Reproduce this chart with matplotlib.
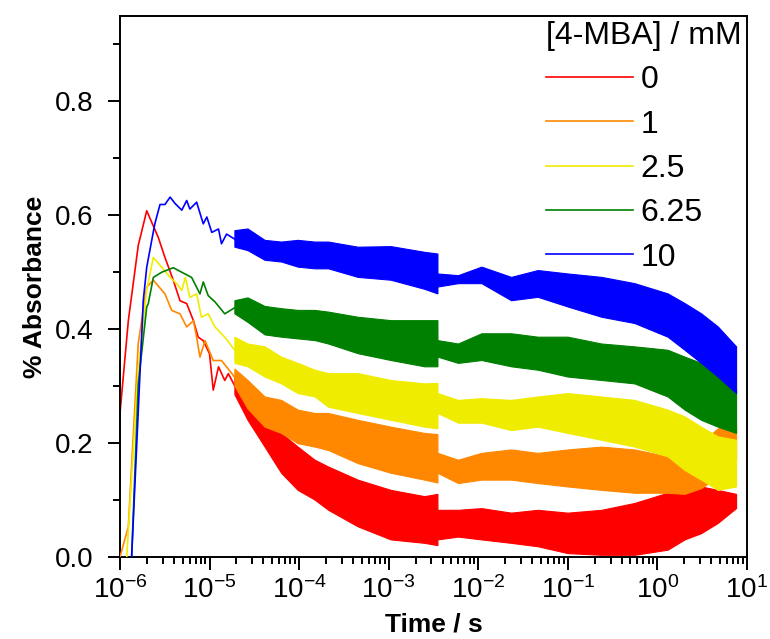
import numpy as np
import matplotlib
matplotlib.use("Agg")
import matplotlib.pyplot as plt
from matplotlib.ticker import FixedLocator, FuncFormatter, LogLocator, NullFormatter
from matplotlib.lines import Line2D

plt.rcParams["font.family"] = ["Liberation Sans", "DejaVu Sans"]
plt.rcParams["mathtext.default"] = "regular"

# ---- concentrations and colours ----
conc_labels = ["0", "1", "2.5", "6.25", "10"]
colors = ["#FF0000", "#FF8800", "#F0EC00", "#008000", "#0000FF"]

# ---- early part of each trace (single line, s / % absorbance) ----
t_line_0 = [1.00e-6, 1.24e-6, 1.60e-6, 1.99e-6, 2.68e-6, 3.18e-6, 3.94e-6, 4.68e-6, 5.56e-6,
            6.61e-6, 7.48e-6, 8.50e-6, 1.00e-5, 1.10e-5, 1.26e-5, 1.48e-5, 1.62e-5, 1.92e-5]
a_line_0 = [0.252, 0.415, 0.547, 0.608, 0.561, 0.526, 0.486, 0.450, 0.445,
            0.415, 0.386, 0.380, 0.357, 0.293, 0.334, 0.310, 0.322, 0.300]

t_line_1 = [1.00e-6, 1.24e-6, 1.60e-6, 1.99e-6, 2.36e-6, 3.18e-6, 3.78e-6, 4.68e-6, 5.56e-6,
            6.61e-6, 7.18e-6, 7.82e-6, 8.91e-6, 1.10e-5, 1.36e-5, 1.78e-5, 1.92e-5]
a_line_1 = [0.000, 0.053, 0.375, 0.474, 0.486, 0.462, 0.433, 0.427, 0.404,
            0.415, 0.386, 0.351, 0.380, 0.345, 0.345, 0.322, 0.315]

t_line_2 = [1.19e-6, 1.60e-6, 1.99e-6, 2.36e-6, 2.92e-6, 3.63e-6, 4.30e-6, 4.90e-6, 5.37e-6,
            6.03e-6, 7.18e-6, 8.13e-6, 9.66e-6, 1.15e-5, 1.48e-5, 1.92e-5]
a_line_2 = [0.000, 0.330, 0.470, 0.526, 0.509, 0.491, 0.480, 0.468, 0.491,
            0.456, 0.462, 0.421, 0.427, 0.404, 0.386, 0.363]

t_line_3 = [1.35e-6, 1.60e-6, 1.99e-6, 2.07e-6, 2.36e-6, 2.92e-6, 3.94e-6, 4.90e-6, 6.31e-6,
            7.82e-6, 8.51e-6, 9.66e-6, 1.15e-5, 1.48e-5, 1.92e-5]
a_line_3 = [0.000, 0.304, 0.439, 0.445, 0.491, 0.500, 0.508, 0.500, 0.491,
            0.462, 0.483, 0.459, 0.448, 0.427, 0.438]

t_line_4 = [1.35e-6, 1.82e-6, 1.99e-6, 2.45e-6, 2.80e-6, 3.18e-6, 3.63e-6, 4.11e-6, 4.90e-6,
            5.56e-6, 6.03e-6, 7.18e-6, 8.51e-6, 9.33e-6, 1.06e-5, 1.26e-5, 1.36e-5, 1.55e-5, 1.92e-5]
a_line_4 = [0.000, 0.450, 0.509, 0.585, 0.619, 0.619, 0.632, 0.621, 0.609,
            0.626, 0.611, 0.623, 0.585, 0.597, 0.570, 0.576, 0.550, 0.567, 0.558]

# ---- noisy part: lower / upper envelope of the scatter ----
# the repeated 3.55e-3 marks the jump where the acquisition range changes
t_band = [1.92e-5, 2.69e-5, 4.17e-5, 6.38e-5, 9.77e-5, 1.51e-4, 2.14e-4, 4.57e-4, 1.07e-3,
          2.54e-3, 3.55e-3, 3.55e-3, 6.03e-3, 1.10e-2, 2.36e-2, 4.68e-2, 0.101, 0.240,
          0.562, 1.32, 2.04, 3.12, 4.79, 7.67]

lo_0 = [0.285, 0.240, 0.193, 0.147, 0.117, 0.100, 0.082, 0.053, 0.030, 0.024, 0.020, 0.030,
        0.035, 0.030, 0.024, 0.018, 0.006, 0.003, 0.003, 0.012, 0.030, 0.041, 0.059, 0.085]
hi_0 = [0.318, 0.290, 0.252, 0.217, 0.193, 0.170, 0.158, 0.135, 0.117, 0.106, 0.110, 0.082,
        0.082, 0.085, 0.077, 0.082, 0.077, 0.082, 0.094, 0.112, 0.121, 0.123, 0.117, 0.110]

lo_1 = [0.300, 0.260, 0.228, 0.217, 0.199, 0.193, 0.187, 0.164, 0.147, 0.135, 0.130, 0.147,
        0.129, 0.135, 0.135, 0.129, 0.123, 0.117, 0.112, 0.112, 0.110, 0.120, 0.140, 0.170]
hi_1 = [0.330, 0.310, 0.281, 0.275, 0.258, 0.252, 0.252, 0.240, 0.228, 0.217, 0.215, 0.182,
        0.170, 0.182, 0.188, 0.182, 0.188, 0.193, 0.188, 0.176, 0.180, 0.200, 0.225, 0.230]

lo_2 = [0.340, 0.334, 0.316, 0.304, 0.287, 0.281, 0.263, 0.252, 0.240, 0.228, 0.225, 0.252,
        0.235, 0.235, 0.222, 0.228, 0.217, 0.205, 0.193, 0.176, 0.152, 0.135, 0.117, 0.123]
hi_2 = [0.386, 0.374, 0.369, 0.351, 0.340, 0.328, 0.322, 0.322, 0.310, 0.304, 0.305, 0.287,
        0.275, 0.278, 0.275, 0.281, 0.287, 0.281, 0.275, 0.258, 0.246, 0.228, 0.211, 0.205]

lo_3 = [0.427, 0.412, 0.390, 0.386, 0.383, 0.380, 0.374, 0.357, 0.345, 0.334, 0.334, 0.351,
        0.340, 0.345, 0.334, 0.328, 0.316, 0.310, 0.304, 0.281, 0.258, 0.240, 0.228, 0.217]
hi_3 = [0.450, 0.455, 0.440, 0.436, 0.433, 0.433, 0.430, 0.421, 0.415, 0.415, 0.415, 0.380,
        0.374, 0.392, 0.392, 0.386, 0.386, 0.374, 0.369, 0.363, 0.351, 0.340, 0.322, 0.293]

lo_4 = [0.544, 0.538, 0.521, 0.518, 0.509, 0.506, 0.506, 0.491, 0.486, 0.470, 0.462, 0.474,
        0.480, 0.480, 0.450, 0.456, 0.439, 0.421, 0.410, 0.386, 0.363, 0.340, 0.316, 0.287]
hi_4 = [0.573, 0.576, 0.556, 0.553, 0.556, 0.553, 0.553, 0.544, 0.545, 0.535, 0.532, 0.497,
        0.494, 0.509, 0.491, 0.503, 0.497, 0.491, 0.480, 0.462, 0.445, 0.427, 0.404, 0.369]

lines = [(t_line_0, a_line_0), (t_line_1, a_line_1), (t_line_2, a_line_2),
         (t_line_3, a_line_3), (t_line_4, a_line_4)]
bands = [(lo_0, hi_0), (lo_1, hi_1), (lo_2, hi_2), (lo_3, hi_3), (lo_4, hi_4)]

# ===== Plot =====
fig = plt.figure(figsize=(7.7, 6.39), dpi=100)
ax = fig.add_axes([0.1558, 0.1283, 0.8142, 0.8467])

tb = np.array(t_band)
step = int(np.flatnonzero(np.diff(tb) == 0)[0]) + 1   # first index after the jump
segments = [slice(0, step), slice(step, len(tb))]

for i, ((t, a), (lo, hi), c) in enumerate(zip(lines, bands, colors)):
    ax.plot(t, a, color=c, linewidth=1.2, zorder=2 + i)
    lo, hi = np.array(lo), np.array(hi)
    # one envelope polygon on each side of the jump
    for seg in segments:
        x = tb[seg]
        ax.fill(np.r_[x, x[::-1]], np.r_[hi[seg], lo[seg][::-1]], facecolor=c,
                edgecolor=c, linewidth=0.8, zorder=2 + i)

ax.set_xscale("log")
ax.set_xlim(1e-6, 1e1)
ax.set_ylim(0, 0.95)

ax.xaxis.set_major_locator(FixedLocator([10.0 ** k for k in range(-6, 2)]))
ax.xaxis.set_major_formatter(FuncFormatter(lambda v, p: r"$10^{%d}$" % round(np.log10(v))))
ax.xaxis.set_minor_locator(LogLocator(base=10, subs=np.arange(2, 10), numticks=20))
ax.xaxis.set_minor_formatter(NullFormatter())

ax.yaxis.set_major_locator(FixedLocator([0.0, 0.2, 0.4, 0.6, 0.8]))
ax.yaxis.set_major_formatter(FuncFormatter(lambda v, p: "%.1f" % v))
ax.yaxis.set_minor_locator(FixedLocator([0.1, 0.3, 0.5, 0.7, 0.9]))

ax.tick_params(which="major", direction="out", length=9, width=1.4, labelsize=20)
ax.tick_params(axis="y", which="major", pad=10)
ax.tick_params(axis="x", which="major", pad=5)
ax.tick_params(which="minor", direction="out", length=5, width=1.4)
ax.tick_params(top=False, right=False, which="both")
for s in ax.spines.values():
    s.set_linewidth(1.4)

ax.set_xlabel("Time / s", fontsize=19, fontweight="bold", labelpad=6)
ax.set_ylabel("% Absorbance", fontsize=19, fontweight="bold", labelpad=6)

handles = [Line2D([], [], color=c, linewidth=1.2) for c in colors]
ax.legend(handles, conc_labels, title="[4-MBA] / mM", loc="upper right",
          bbox_to_anchor=(1.0, 1.0), frameon=False, fontsize=23, title_fontsize=23,
          handlelength=2.7, handletextpad=0.25, labelspacing=0.45, alignment="left",
          borderaxespad=0.05, borderpad=0.1)

fig.savefig("out.png", dpi=100)
